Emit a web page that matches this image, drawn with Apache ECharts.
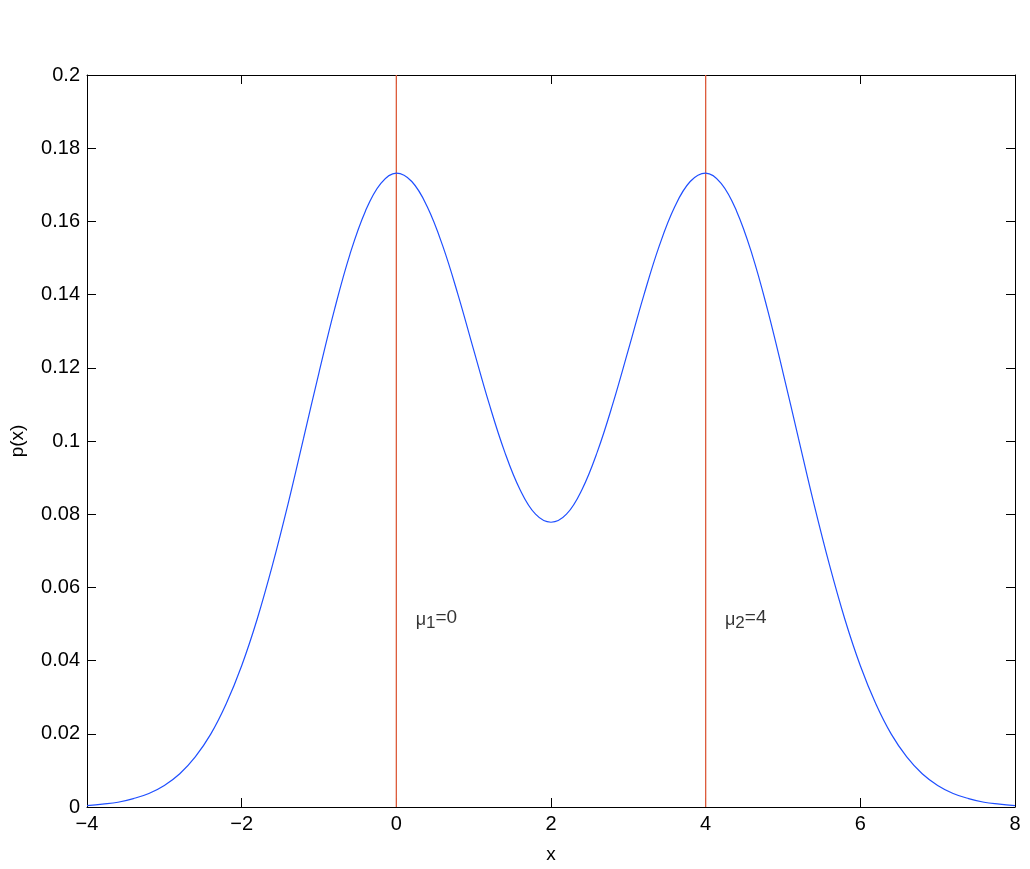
<!DOCTYPE html>
<html>
<head>
<meta charset="utf-8">
<script src="https://cdn.jsdelivr.net/npm/echarts@6/dist/echarts.min.js"></script>
<style>html,body{margin:0;padding:0;background:#fff}#c{width:1030px;height:869px}</style>
</head>
<body>
<div id="c"></div>
<script>
// x positions of samples
const xs = [-4,-3.8,-3.6,-3.4,-3.2,-3,-2.8,-2.6,-2.4,-2.2,-2,-1.8,-1.6,-1.4,-1.2,-1,-0.8,-0.6,-0.4,-0.2,0,
  0.2,0.4,0.6,0.8,1,1.2,1.4,1.6,1.8,2,2.2,2.4,2.6,2.8,3,3.2,3.4,3.6,3.8,4,
  4.2,4.4,4.6,4.8,5,5.2,5.4,5.6,5.8,6,6.2,6.4,6.6,6.8,7,7.2,7.4,7.6,7.8,8];
// p(x) values
const px = [0.0004,0.0008,0.0013,0.0023,0.0037,0.0059,0.0091,0.0137,0.0199,0.0282,0.0386,0.0513,0.0662,0.0828,0.1007,0.1187,0.1359,0.1510,0.1628,0.1704,0.1732,
  0.1709,0.1640,0.1533,0.1398,0.1249,0.1102,0.0971,0.0867,0.0800,0.0778,0.0800,0.0867,0.0971,0.1102,0.1249,0.1398,0.1533,0.1640,0.1709,0.1732,
  0.1704,0.1628,0.1510,0.1359,0.1187,0.1007,0.0828,0.0662,0.0513,0.0386,0.0282,0.0199,0.0137,0.0091,0.0059,0.0037,0.0023,0.0013,0.0008,0.0004];
// means (vertical lines)
const means = [0, 4];
const meanSubs = ['1', '2'];
const meanVals = ['0', '4'];
const xTicks = [-4,-2,0,2,4,6,8];
const yTicks = [0,0.02,0.04,0.06,0.08,0.1,0.12,0.14,0.16,0.18,0.2];

const FONT = 'Liberation Sans, Arial, Helvetica, sans-serif';
const chart = echarts.init(document.getElementById('c'), null, {renderer: 'canvas'});
function axisCommon() {
  return {
    axisLine: {show: true, onZero: false, lineStyle: {color: '#000', width: 1}},
    axisTick: {show: true, inside: true, length: 9, lineStyle: {color: '#000', width: 1}},
    splitLine: {show: false}
  };
}
const option = {
  backgroundColor: '#fff',
  animation: false,
  grid: {left: 85, right: 15, top: 75, bottom: 59, containLabel: false},
  xAxis: [
    Object.assign({type: 'value', min: xTicks[0], max: xTicks[xTicks.length - 1], interval: 2, position: 'bottom',
      name: 'x', nameLocation: 'middle', nameGap: 38,
      nameTextStyle: {fontFamily: FONT, fontSize: 19, color: '#000'},
      axisLabel: {fontFamily: FONT, fontSize: 20, color: '#000', margin: 7,
        formatter: v => String(v).replace('-', '\u2212')}}, axisCommon()),
    Object.assign({type: 'value', min: xTicks[0], max: xTicks[xTicks.length - 1], interval: 2, position: 'top',
      axisLabel: {show: false}}, axisCommon())
  ],
  yAxis: [
    Object.assign({type: 'value', min: yTicks[0], max: yTicks[yTicks.length - 1], interval: 0.02, position: 'left',
      name: 'p(x)', nameLocation: 'middle', nameGap: 60, nameRotate: 90,
      nameTextStyle: {fontFamily: FONT, fontSize: 19, color: '#000'},
      axisLabel: {fontFamily: FONT, fontSize: 20, color: '#000', margin: 7,
        formatter: v => String(+v.toFixed(2))}}, axisCommon()),
    Object.assign({type: 'value', min: yTicks[0], max: yTicks[yTicks.length - 1], interval: 0.02, position: 'right',
      axisLabel: {show: false}}, axisCommon())
  ],
  series: [
    {
      type: 'line', data: xs.map((x, i) => [x, px[i]]), smooth: 0.4, symbol: 'none',
      lineStyle: {color: '#1f4fff', width: 1.2}, z: 3
    },
    ...means.map(m => ({
      type: 'line', data: [[m, 0], [m, 0.2]], symbol: 'none',
      lineStyle: {color: '#dd5a3a', width: 1.3}, z: 2
    })),
    {
      type: 'scatter', symbolSize: 0, z: 4,
      data: means.map((m, i) => ({value: [m + 0.25, 0.0517], name: meanSubs[i] + '|' + meanVals[i]})),
      label: {
        show: true, position: 'right', distance: 0, color: '#000',
        formatter: p => '{m|\u03bc}{s|' + p.name.split('|')[0] + '}{n|=' + p.name.split('|')[1] + '}',
        rich: {
          m: {fontFamily: FONT, fontSize: 18, color: '#000', padding: [4, 0, 0, 0]},
          s: {fontFamily: FONT, fontSize: 17, color: '#000', padding: [12, 0, 0, 0]},
          n: {fontFamily: FONT, fontSize: 19, color: '#000'}
        }
      }
    }
  ]
};
chart.setOption(option);
</script>
</body>
</html>
